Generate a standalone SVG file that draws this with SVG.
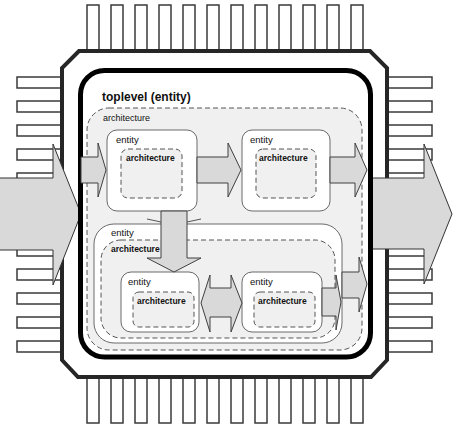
<svg xmlns="http://www.w3.org/2000/svg" width="453" height="429" viewBox="0 0 453 429">
<style>
.pin{fill:#fff;stroke:#3a3a3a;stroke-width:1.5}
.chip{fill:#fff;stroke:#262626;stroke-width:4;stroke-linejoin:miter}
.big{fill:#d9d9d9;stroke:#333;stroke-width:1}
.arr{fill:#d9d9d9;stroke:#404040;stroke-width:1;stroke-linejoin:miter}
.ent{fill:#fff;stroke:#6a6a6a;stroke-width:1}
.arch{fill:#f0f0f0;stroke:#555;stroke-width:1;stroke-dasharray:5 3}
.t{font-family:"Liberation Sans",Arial,sans-serif;fill:#111}
.tb{font-family:"Liberation Sans",Arial,sans-serif;font-weight:bold;fill:#111}
</style>
<g id="pins">
<g id="pins-top">
<rect class="pin" x="87" y="5" width="12" height="47"/><rect class="pin" x="111" y="5" width="12" height="47"/><rect class="pin" x="135" y="5" width="12" height="47"/><rect class="pin" x="159" y="5" width="12" height="47"/><rect class="pin" x="183" y="5" width="12" height="47"/><rect class="pin" x="207" y="5" width="12" height="47"/><rect class="pin" x="231" y="5" width="12" height="47"/><rect class="pin" x="255" y="5" width="12" height="47"/><rect class="pin" x="279" y="5" width="12" height="47"/><rect class="pin" x="303" y="5" width="12" height="47"/><rect class="pin" x="327" y="5" width="12" height="47"/><rect class="pin" x="351" y="5" width="12" height="47"/>
</g>
<g id="pins-bottom">
<rect class="pin" x="87" y="376" width="12" height="47"/><rect class="pin" x="111" y="376" width="12" height="47"/><rect class="pin" x="135" y="376" width="12" height="47"/><rect class="pin" x="159" y="376" width="12" height="47"/><rect class="pin" x="183" y="376" width="12" height="47"/><rect class="pin" x="207" y="376" width="12" height="47"/><rect class="pin" x="231" y="376" width="12" height="47"/><rect class="pin" x="255" y="376" width="12" height="47"/><rect class="pin" x="279" y="376" width="12" height="47"/><rect class="pin" x="303" y="376" width="12" height="47"/><rect class="pin" x="327" y="376" width="12" height="47"/><rect class="pin" x="351" y="376" width="12" height="47"/>
</g>
<g id="pins-left">
<rect class="pin" x="17" y="77" width="46" height="11"/><rect class="pin" x="17" y="101" width="46" height="11"/><rect class="pin" x="17" y="125" width="46" height="11"/><rect class="pin" x="17" y="149" width="46" height="11"/><rect class="pin" x="17" y="173" width="46" height="11"/><rect class="pin" x="17" y="197" width="46" height="11"/><rect class="pin" x="17" y="221" width="46" height="11"/><rect class="pin" x="17" y="245" width="46" height="11"/><rect class="pin" x="17" y="269" width="46" height="11"/><rect class="pin" x="17" y="293" width="46" height="11"/><rect class="pin" x="17" y="317" width="46" height="11"/><rect class="pin" x="17" y="341" width="46" height="11"/>
</g>
<g id="pins-right">
<rect class="pin" x="386" y="77" width="46" height="11"/><rect class="pin" x="386" y="101" width="46" height="11"/><rect class="pin" x="386" y="125" width="46" height="11"/><rect class="pin" x="386" y="149" width="46" height="11"/><rect class="pin" x="386" y="173" width="46" height="11"/><rect class="pin" x="386" y="197" width="46" height="11"/><rect class="pin" x="386" y="221" width="46" height="11"/><rect class="pin" x="386" y="245" width="46" height="11"/><rect class="pin" x="386" y="269" width="46" height="11"/><rect class="pin" x="386" y="293" width="46" height="11"/><rect class="pin" x="386" y="317" width="46" height="11"/><rect class="pin" x="386" y="341" width="46" height="11"/>
</g>
</g>
<g id="chip">
<polygon class="chip" points="79,51 370,51 387,68 387,360 371,377 78,377 62,360 62,68"/>
</g>
<g id="io-arrows">
<polygon id="input" class="big" points="-1,178 53,178 53,144 81,214 53,285 53,250 -1,250"/>
<polygon id="output" class="big" points="366,178 424,178 424,144 452,214 424,284 424,249 366,249"/>
</g>
<g id="toplevel">
<rect x="80.5" y="70.5" width="290" height="286.5" rx="24" fill="#fff" stroke="#000" stroke-width="5"/>
<text class="tb" x="102" y="101" font-size="12">toplevel (entity)</text>
</g>
<g id="top-architecture">
<rect class="arch" x="87" y="108" width="275" height="242" rx="22"/>
<text class="t" x="103" y="120.5" font-size="9">architecture</text>
</g>
<g id="entity3">
<rect class="ent" x="94" y="224" width="248" height="119" rx="20" stroke="#444"/>
<text class="t" x="111" y="236.3" font-size="9.5">entity</text>
<rect class="arch" x="101" y="240" width="234" height="98" rx="20"/>
<text class="tb" x="111" y="252" font-size="8.5">architecture</text>
</g>
<g id="entity1">
<rect class="ent" x="107" y="130" width="90" height="81" rx="10"/>
<text class="t" x="116" y="142.5" font-size="9.5">entity</text>
<rect class="arch" x="121" y="149" width="61" height="49" rx="7"/>
<text class="tb" x="126" y="160.5" font-size="8.5">architecture</text>
</g>
<g id="entity2">
<rect class="ent" x="242" y="130" width="88" height="81" rx="10"/>
<text class="t" x="250" y="142.5" font-size="9.5">entity</text>
<rect class="arch" x="256" y="149" width="60" height="49" rx="7"/>
<text class="tb" x="259" y="160.5" font-size="8.5">architecture</text>
</g>
<g id="entity4">
<rect class="ent" x="121" y="272" width="78" height="60" rx="10"/>
<text class="t" x="128" y="285.3" font-size="9.5">entity</text>
<rect class="arch" x="133" y="292" width="61" height="35" rx="6"/>
<text class="tb" x="137" y="303.7" font-size="8.5">architecture</text>
</g>
<g id="entity5">
<rect class="ent" x="242" y="272" width="80" height="60" rx="10"/>
<text class="t" x="250" y="285.3" font-size="9.5">entity</text>
<rect class="arch" x="254" y="292" width="61" height="35" rx="6"/>
<text class="tb" x="258" y="303.7" font-size="8.5">architecture</text>
</g>
<g id="connectors">
<polygon class="arr" points="81,157 98,157 98,143 106,170 98,197 98,183 81,183"/>
<polygon class="arr" points="197,157 228,157 228,143 241,170 228,197 228,183 197,183"/>
<polygon class="arr" points="330,157 355,157 355,143 367,170 355,197 355,183 330,183"/>
<polygon class="arr" points="161,211 187,211 187,258 201,258 174,272 147,258 161,258"/>
<path d="M147,219 L161,222 M187,222 L201,219" stroke="#555" stroke-width="1" fill="none"/>
<polygon class="arr" points="201,303 210,275 210,288 231,288 231,275 242,303 231,332 231,317 210,317 210,332"/>
<polygon class="arr" points="322,288 336,288 336,275 341,302 336,330 336,316 322,316"/>
<polygon class="arr" points="342,272 359,272 359,257 367,284 359,312 359,298 342,298"/>
</g>
</svg>
